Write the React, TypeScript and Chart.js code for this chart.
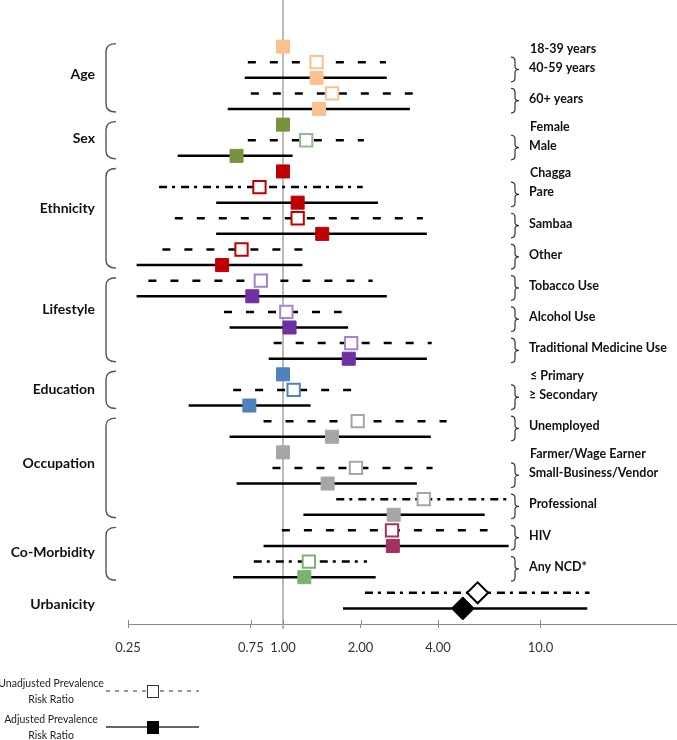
import React, { useEffect, useRef } from "react";
import { Chart, registerables } from "chart.js";
Chart.register(...registerables);

// ---------------- DATA ----------------
const groups = ["Age", "Sex", "Ethnicity", "Lifestyle", "Education", "Occupation", "Co-Morbidity", "Urbanicity"];
const levels = [
  "18-39 years", "40-59 years", "60+ years",
  "Female", "Male",
  "Chagga", "Pare", "Sambaa", "Other",
  "Tobacco Use", "Alcohol Use", "Traditional Medicine Use",
  "≤ Primary", "≥ Secondary",
  "Unemployed", "Farmer/Wage Earner", "Small-Business/Vendor", "Professional",
  "HIV", "Any NCD*",
  "",
];
const levelGroup = [0, 0, 0, 1, 1, 2, 2, 2, 2, 3, 3, 3, 4, 4, 5, 5, 5, 5, 6, 6, 7];
const isReference = [true, false, false, true, false, true, false, false, false, false, false, false, true, false, false, true, false, false, false, false, false];
const refValue = 1;

const unadjRR = [null, 1.35, 1.55, null, 1.23, null, 0.81, 1.14, 0.69, 0.82, 1.03, 1.84, null, 1.10, 1.95, null, 1.92, 3.52, 2.65, 1.26, 5.70];
const unadjLo = [null, 0.73, 0.75, null, 0.73, null, 0.33, 0.38, 0.34, 0.30, 0.59, 0.92, null, 0.64, 0.84, null, 0.91, 1.61, 0.99, 0.77, 2.08];
const unadjHi = [null, 2.51, 3.19, null, 2.06, null, 2.04, 3.49, 1.19, 2.23, 1.69, 3.78, null, 1.84, 4.32, null, 3.81, 7.59, 6.23, 2.12, 15.5];
const adjRR = [null, 1.35, 1.38, null, 0.66, null, 1.14, 1.42, 0.58, 0.76, 1.06, 1.80, null, 0.74, 1.55, null, 1.49, 2.69, 2.67, 1.21, 4.99];
const adjLo = [null, 0.71, 0.61, null, 0.39, null, 0.55, 0.55, 0.27, 0.27, 0.62, 0.88, null, 0.43, 0.62, null, 0.66, 1.20, 0.84, 0.64, 1.71];
const adjHi = [null, 2.53, 3.11, null, 1.09, null, 2.34, 3.62, 1.19, 2.53, 1.79, 3.62, null, 1.28, 3.75, null, 3.31, 6.07, 7.52, 2.29, 15.2];
const unadjLineType = ["", "dash", "dash", "", "dash", "", "dashdot", "dash", "dash", "dash", "dash", "dash", "", "dash", "dash", "", "dash", "dashdot", "dash", "dashdot", "dashdot"];

const xTicks = [0.25, 0.75, 1, 2, 4, 10];
const xTickLabels = ["0.25", "0.75", "1.00", "2.00", "4.00", "10.0"];
const legendLabels = [["Unadjusted Prevalence", "Risk Ratio"], ["Adjusted Prevalence", "Risk Ratio"]];

// ---------------- STYLE ----------------
const fillColor = [
  "#FAC090", "#FAC090", "#FAC090",
  "#77933C", "#77933C",
  "#C00000", "#C00000", "#C00000", "#C00000",
  "#7030A0", "#7030A0", "#7030A0",
  "#4F81BD", "#4F81BD",
  "#A6A6A6", "#A6A6A6", "#A6A6A6", "#A6A6A6",
  "#A3305F", "#79B46F", "#000000",
];
const openColor = [
  "#FAC090", "#FAC090", "#FAC090",
  "#8FBC8B", "#8FBC8B",
  "#C00000", "#C00000", "#C00000", "#C00000",
  "#A385CC", "#A385CC", "#A385CC",
  "#4F81BD", "#4F81BD",
  "#A6A6A6", "#A6A6A6", "#A6A6A6", "#A6A6A6",
  "#A3305F", "#79B46F", "#000000",
];
const groupLabelNudge = [-3, -2, -10, -10, 0, -4, -1, 4];
const FONT = "Lato, 'Open Sans', sans-serif";

export default function App() {
  const canvasRef = useRef<HTMLCanvasElement | null>(null);

  useEffect(() => {
    const canvas = canvasRef.current;
    if (!canvas) return;

    // row assignment
    const rowOf: number[][] = [];
    let nRows = 0;
    levels.forEach((_, i) => {
      if (isReference[i]) {
        rowOf.push([nRows]);
        nRows += 1;
      } else {
        rowOf.push([nRows, nRows + 1]);
        nRows += 2;
      }
    });

    const unadjPts: any[] = [], unadjStyle: any[] = [], unadjColor: any[] = [], unadjRad: any[] = [];
    const adjPts: any[] = [], adjStyle: any[] = [], adjColor: any[] = [], adjRad: any[] = [];
    const lineSets: any[] = [];
    levels.forEach((_, i) => {
      const diamond = levelGroup[i] === groups.length - 1;
      if (isReference[i]) {
        adjPts.push({ x: refValue, y: rowOf[i][0] });
        adjStyle.push("rect");
        adjColor.push(fillColor[i]);
        adjRad.push(9.2);
        return;
      }
      const [ru, ra] = rowOf[i];
      unadjPts.push({ x: unadjRR[i], y: ru });
      unadjStyle.push(diamond ? "rectRot" : "rect");
      unadjColor.push(openColor[i]);
      unadjRad.push(diamond ? 10.5 : 8.7);
      adjPts.push({ x: adjRR[i], y: ra });
      adjStyle.push(diamond ? "rectRot" : "rect");
      adjColor.push(fillColor[i]);
      adjRad.push(diamond ? 11.5 : 9.2);
      lineSets.push({
        data: [{ x: unadjLo[i], y: ru }, { x: unadjHi[i], y: ru }],
        showLine: true,
        borderColor: "#000",
        borderWidth: 2.5,
        borderDash: unadjLineType[i] === "dashdot" ? [8, 5, 3, 6] : [8, 14],
        pointRadius: 0,
        order: 5,
      });
      lineSets.push({
        data: [{ x: adjLo[i], y: ra }, { x: adjHi[i], y: ra }],
        showLine: true,
        borderColor: "#000",
        borderWidth: 2.5,
        pointRadius: 0,
        order: 5,
      });
    });

    const overlay = {
      id: "overlay",
      beforeDatasetsDraw(chart: any) {
        const { ctx, scales } = chart;
        const x = scales.x, y = scales.y;
        const px = x.getPixelForValue(refValue);
        ctx.save();
        ctx.strokeStyle = "#ABABAB";
        ctx.lineWidth = 1.6;
        ctx.beginPath();
        ctx.moveTo(px, 0);
        ctx.lineTo(px, y.getPixelForValue(nRows) + 5);
        ctx.stroke();
        ctx.restore();
      },
      afterDraw(chart: any) {
        const { ctx, scales } = chart;
        const x = scales.x, y = scales.y;
        const axisY = y.getPixelForValue(nRows);
        ctx.save();
        // upper halves of tick marks
        ctx.strokeStyle = "#888";
        ctx.lineWidth = 1;
        xTicks.forEach((v) => {
          const px = Math.round(x.getPixelForValue(v)) + 0.5;
          ctx.beginPath();
          ctx.moveTo(px, axisY - 4);
          ctx.lineTo(px, axisY);
          ctx.stroke();
        });

        // left group labels & brackets
        groups.forEach((g, gi) => {
          const idx = levels.map((_, i) => i).filter((i) => levelGroup[i] === gi);
          const allRows = idx.flatMap((i) => rowOf[i]);
          const r0 = Math.min(...allRows), r1 = Math.max(...allRows);
          const top = y.getPixelForValue(r0) - 3;
          const bot = y.getPixelForValue(r1) + 3;
          const mid = (top + bot) / 2;
          ctx.fillStyle = "#111";
          ctx.font = `bold 14px ${FONT}`;
          ctx.textAlign = "right";
          ctx.textBaseline = "middle";
          ctx.fillText(g, 95, mid + groupLabelNudge[gi]);
          if (idx.length > 1) {
            ctx.strokeStyle = "#555";
            ctx.lineWidth = 1.4;
            ctx.beginPath();
            ctx.moveTo(116, top);
            ctx.quadraticCurveTo(106, top, 106, top + 8);
            ctx.lineTo(106, bot - 8);
            ctx.quadraticCurveTo(106, bot, 116, bot);
            ctx.stroke();
          }
        });

        // right labels & braces
        ctx.font = `bold 12.5px ${FONT}`;
        ctx.textAlign = "left";
        ctx.textBaseline = "middle";
        levels.forEach((lab, i) => {
          if (!lab) return;
          ctx.fillStyle = "#111";
          if (isReference[i]) {
            ctx.fillText(lab, 530, y.getPixelForValue(rowOf[i][0]) + 2);
            return;
          }
          const t = y.getPixelForValue(rowOf[i][0]) - 5;
          const b = y.getPixelForValue(rowOf[i][1]) + 4;
          const m = (t + b) / 2;
          ctx.strokeStyle = "#333";
          ctx.lineWidth = 1.2;
          ctx.beginPath();
          ctx.moveTo(511, t);
          ctx.quadraticCurveTo(515, t, 515, t + 4);
          ctx.lineTo(515, m - 3);
          ctx.quadraticCurveTo(515, m, 519, m);
          ctx.quadraticCurveTo(515, m, 515, m + 3);
          ctx.lineTo(515, b - 4);
          ctx.quadraticCurveTo(515, b, 511, b);
          ctx.stroke();
          ctx.fillText(lab, 529, m - 2);
        });

        // legend
        ctx.font = `10.5px ${FONT}`;
        ctx.textAlign = "center";
        ctx.fillStyle = "#222";
        const legendY = [691, 727];
        legendLabels.forEach((lines, li) => {
          const ly = legendY[li];
          ctx.fillText(lines[0], 51, ly - 7);
          ctx.fillText(lines[1], 51, ly + 9);
          ctx.strokeStyle = "#333";
          ctx.lineWidth = li === 0 ? 1 : 1.6;
          ctx.setLineDash(li === 0 ? [4, 5] : []);
          ctx.beginPath();
          ctx.moveTo(106, ly);
          ctx.lineTo(199, ly);
          ctx.stroke();
          ctx.setLineDash([]);
          if (li === 0) {
            ctx.fillStyle = "#fff";
            ctx.fillRect(147.5, ly - 5.5, 11, 12);
            ctx.strokeStyle = "#333";
            ctx.lineWidth = 1;
            ctx.strokeRect(147.5, ly - 5.5, 11, 12);
          } else {
            ctx.fillStyle = "#000";
            ctx.fillRect(147, ly - 6, 12, 13);
          }
          ctx.fillStyle = "#222";
        });
        ctx.restore();
      },
    };

    const chart = new Chart(canvas, {
      type: "scatter",
      data: {
        datasets: [
          {
            data: unadjPts,
            pointStyle: unadjStyle,
            pointRadius: unadjRad,
            pointBackgroundColor: "#ffffff",
            pointBorderColor: unadjColor,
            pointBorderWidth: 2,
            order: 1,
          },
          {
            data: adjPts,
            pointStyle: adjStyle,
            pointRadius: adjRad,
            pointBackgroundColor: adjColor,
            pointBorderColor: adjColor,
            pointBorderWidth: 1,
            order: 0,
          },
          ...lineSets,
        ],
      },
      options: {
        responsive: false,
        animation: false,
        devicePixelRatio: 1,
        layout: { autoPadding: false, padding: { left: 128, right: 0, top: 31, bottom: 76 } },
        plugins: { legend: { display: false }, tooltip: { enabled: false } },
        scales: {
          x: {
            type: "logarithmic",
            min: 0.25,
            max: 33.9,
            afterBuildTicks: (s: any) => {
              s.ticks = xTicks.map((v) => ({ value: v }));
            },
            afterFit: (s: any) => {
              s.height = 40;
              s.paddingLeft = 0;
              s.paddingRight = 0;
            },
            ticks: {
              autoSkip: false,
              maxRotation: 0,
              padding: 12,
              color: "#333",
              font: { family: FONT, size: 13 },
              callback: (v: any) => {
                const k = xTicks.findIndex((t) => Math.abs(t - Number(v)) < 1e-9);
                return k >= 0 ? xTickLabels[k] : "";
              },
            },
            grid: { drawOnChartArea: false, drawTicks: true, tickLength: 4, color: "#888" },
            border: { color: "#888", width: 1 },
          },
          y: {
            type: "linear",
            min: -1,
            max: nRows,
            reverse: true,
            display: false,
          },
        },
      },
      plugins: [overlay],
    } as any);

    return () => chart.destroy();
  }, []);

  return (
    <div style={{ position: "fixed", left: 0, top: 0, width: 677, height: 740, background: "#fff" }}>
      <canvas ref={canvasRef} width={677} height={740} style={{ display: "block" }} />
    </div>
  );
}
